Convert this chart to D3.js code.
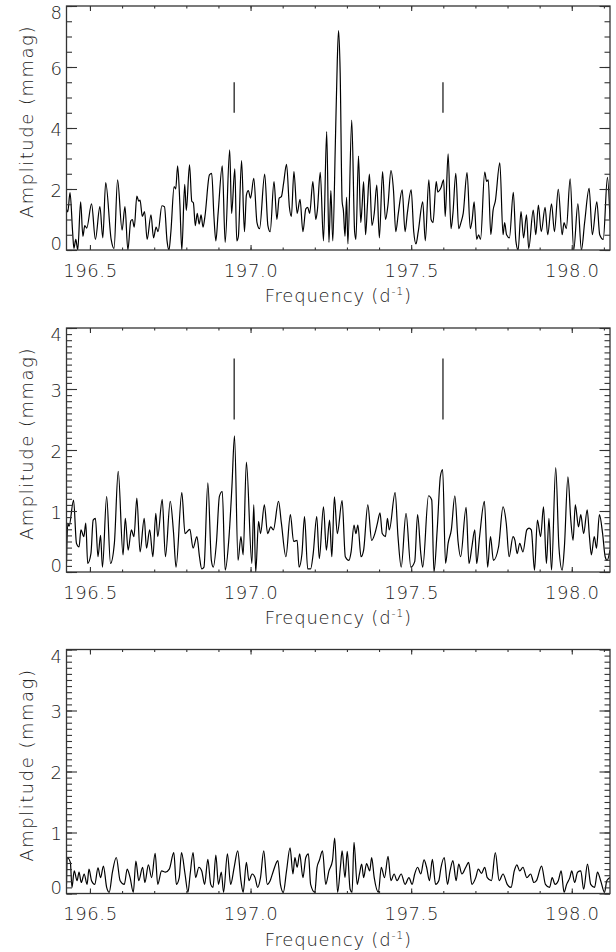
<!DOCTYPE html>
<html>
<head>
<meta charset="utf-8">
<script src="https://cdn.jsdelivr.net/npm/d3@7"></script>
<style>
body { margin: 0; background: #fff; }
svg text { font-family: "DejaVu Sans", sans-serif; font-weight: 200; fill: #222; }
</style>
</head>
<body>
<script>
// amplitude spectra: [frequency (1/d), amplitude (mmag)]
var spectrumTop = [
  [196.425,1.42],[196.431,1.25],[196.438,1.88],[196.446,0.6],[196.450,0.05],[196.456,0.35],[196.462,0.0],
  [196.471,1.58],[196.478,0.45],[196.484,0.8],[196.490,0.72],[196.505,1.51],[196.517,0.35],[196.531,1.42],
  [196.540,0.4],[196.549,2.21],[196.566,0.35],[196.575,0.05],[196.586,2.30],[196.600,0.65],[196.609,1.42],
  [196.618,0.0],[196.627,0.95],[196.632,1.0],[196.638,0.75],[196.646,1.77],[196.652,1.6],[196.656,1.64],
  [196.663,1.1],[196.670,1.26],[196.678,0.35],[196.690,1.15],[196.698,0.4],[196.706,0.75],[196.712,0.6],
  [196.724,1.45],[196.732,1.42],[196.740,0.3],[196.746,0.0],[196.752,0.6],[196.762,2.08],[196.767,2.0],
  [196.773,2.76],[196.780,1.5],[196.786,0.0],[196.795,2.15],[196.800,1.3],[196.810,2.79],[196.817,1.6],
  [196.822,1.55],[196.828,0.8],[196.834,1.2],[196.840,0.85],[196.846,1.15],[196.852,0.75],[196.858,1.1],
  [196.872,2.46],[196.879,2.51],[196.886,1.1],[196.892,0.3],[196.899,1.2],[196.912,2.76],[196.921,0.25],
  [196.935,3.28],[196.941,1.2],[196.951,2.66],[196.957,0.3],[196.962,0.45],[196.972,2.93],[196.981,0.6],
  [196.987,1.8],[196.993,1.95],[197.000,1.7],[197.010,2.35],[197.020,0.9],[197.028,0.7],[197.044,2.49],
  [197.054,0.8],[197.061,0.6],[197.073,2.24],[197.082,1.0],[197.089,1.7],[197.096,1.75],[197.103,2.2],
  [197.112,2.81],[197.121,1.4],[197.127,1.1],[197.135,2.57],[197.145,1.2],[197.154,1.66],[197.163,0.6],
  [197.172,1.35],[197.178,1.4],[197.184,1.2],[197.194,2.24],[197.203,1.0],[197.208,1.3],[197.217,2.55],
  [197.227,0.3],[197.237,3.88],[197.244,0.25],[197.250,1.95],[197.256,0.3],[197.264,3.5],[197.270,6.2],
  [197.274,7.19],[197.279,5.8],[197.285,1.6],[197.289,1.3],[197.294,0.45],[197.299,1.73],[197.303,0.2],
  [197.315,4.26],[197.324,0.6],[197.328,0.35],[197.336,3.08],[197.343,0.9],[197.347,1.4],[197.352,2.24],
  [197.358,0.5],[197.364,1.5],[197.370,2.49],[197.378,0.8],[197.385,1.2],[197.393,2.13],[197.401,0.4],
  [197.411,2.57],[197.420,1.0],[197.428,1.5],[197.437,2.6],[197.445,1.95],[197.452,0.6],[197.460,1.2],
  [197.472,1.97],[197.481,0.6],[197.488,1.2],[197.500,1.97],[197.508,0.6],[197.515,0.2],[197.522,0.6],
  [197.536,1.58],[197.544,0.3],[197.555,2.30],[197.562,1.0],[197.568,0.9],[197.578,2.24],[197.583,1.9],
  [197.588,1.95],[197.593,2.05],[197.601,2.3],[197.606,1.1],[197.615,3.15],[197.624,0.7],[197.630,1.2],
  [197.639,2.51],[197.648,0.7],[197.655,0.9],[197.662,1.2],[197.674,2.54],[197.684,0.7],[197.690,1.0],
  [197.696,1.58],[197.704,0.35],[197.710,0.5],[197.716,0.35],[197.729,2.55],[197.735,2.25],[197.740,2.3],
  [197.748,0.5],[197.755,1.3],[197.762,1.6],[197.776,2.86],[197.786,0.5],[197.791,0.9],[197.797,0.5],
  [197.806,0.4],[197.818,1.89],[197.826,0.3],[197.833,0.0],[197.842,1.26],[197.850,0.4],[197.859,1.15],
  [197.866,0.05],[197.880,1.31],[197.888,0.5],[197.896,1.47],[197.905,0.6],[197.917,1.40],[197.925,0.5],
  [197.937,1.51],[197.946,0.6],[197.958,1.99],[197.970,0.5],[197.976,0.9],[197.983,0.7],[197.995,2.33],
  [198.006,0.0],[198.019,1.51],[198.030,0.0],[198.040,0.9],[198.054,2.02],[198.064,0.5],[198.078,1.58],
  [198.087,0.5],[198.098,0.35],[198.111,2.38],[198.119,1.0]
];

var spectrumMid = [
  [196.427,0.15],[196.431,0.8],[196.435,0.75],[196.449,1.18],[196.458,0.47],[196.466,0.41],[196.472,0.69],
  [196.481,0.58],[196.487,0.8],[196.493,0.14],[196.503,0.3],[196.510,0.85],[196.517,0.88],[196.525,0.25],
  [196.533,0.6],[196.539,0.08],[196.552,1.24],[196.564,0.14],[196.576,0.47],[196.588,1.65],[196.603,0.28],
  [196.610,0.88],[196.619,0.36],[196.629,0.69],[196.637,0.58],[196.646,1.21],[196.656,0.33],[196.669,0.88],
  [196.676,0.39],[196.686,0.69],[196.696,0.25],[196.705,0.96],[196.711,0.58],[196.725,1.19],[196.735,0.25],
  [196.750,1.16],[196.760,0.66],[196.768,0.08],[196.786,1.30],[196.796,0.63],[196.811,0.7],[196.821,0.39],
  [196.833,0.58],[196.841,0.25],[196.848,0.05],[196.855,0.08],[196.867,1.46],[196.878,0.19],[196.884,0.08],
  [196.894,0.5],[196.903,1.24],[196.912,1.32],[196.921,0.03],[196.933,0.58],[196.942,1.4],[196.950,2.23],
  [196.961,0.19],[196.970,0.58],[196.977,0.28],[196.987,1.80],[197.004,0.14],[197.010,1.1],[197.016,0.0],
  [197.025,0.83],[197.031,0.63],[197.043,1.1],[197.053,0.63],[197.063,0.74],[197.071,0.69],[197.087,1.16],
  [197.096,0.8],[197.110,0.25],[197.124,0.94],[197.134,0.5],[197.145,0.52],[197.151,0.08],[197.160,0.3],
  [197.168,0.91],[197.178,0.05],[197.187,0.05],[197.195,0.3],[197.206,0.91],[197.214,0.22],[197.227,1.07],
  [197.236,0.36],[197.246,0.85],[197.253,0.25],[197.261,1.23],[197.270,0.63],[197.285,1.17],[197.295,0.25],
  [197.306,0.19],[197.313,0.33],[197.322,0.77],[197.328,0.63],[197.334,0.77],[197.344,0.25],[197.352,0.36],
  [197.365,1.10],[197.377,0.52],[197.387,0.63],[197.395,0.8],[197.403,0.97],[197.410,0.63],[197.420,0.58],
  [197.426,0.88],[197.432,0.69],[197.450,1.30],[197.459,0.58],[197.469,0.08],[197.484,0.96],[197.499,0.08],
  [197.511,0.17],[197.520,0.94],[197.530,0.3],[197.536,0.08],[197.554,1.25],[197.564,1.18],[197.571,0.0],
  [197.581,0.69],[197.591,1.57],[197.598,1.68],[197.607,0.14],[197.615,0.47],[197.625,0.69],[197.636,1.25],
  [197.646,0.5],[197.654,0.25],[197.671,1.06],[197.680,0.14],[197.689,0.41],[197.698,0.69],[197.704,0.14],
  [197.713,0.58],[197.728,1.16],[197.738,0.08],[197.747,0.58],[197.756,0.19],[197.772,0.41],[197.786,1.07],
  [197.796,0.8],[197.805,0.25],[197.817,0.58],[197.823,0.52],[197.830,0.3],[197.838,0.47],[197.848,0.33],
  [197.860,0.69],[197.867,0.72],[197.874,0.69],[197.884,0.03],[197.893,0.85],[197.903,0.58],[197.912,1.07],
  [197.921,0.14],[197.929,0.88],[197.937,0.03],[197.950,1.71],[197.960,0.41],[197.970,0.03],[197.977,0.41],
  [197.988,1.56],[197.997,0.85],[198.004,0.52],[198.011,1.1],[198.021,0.74],[198.028,0.94],[198.037,0.63],
  [198.048,1.02],[198.055,0.58],[198.061,0.28],[198.070,0.58],[198.077,0.39],[198.086,0.94],[198.096,0.63],
  [198.104,0.25],[198.110,0.19],[198.119,0.36]
];

var spectrumBottom = [
  [196.427,0.15],[196.429,0.59],[196.439,0.51],[196.444,0.1],[196.451,0.37],[196.460,0.21],[196.466,0.35],
  [196.473,0.18],[196.482,0.32],[196.491,0.15],[196.497,0.4],[196.505,0.21],[196.515,0.15],[196.525,0.42],
  [196.533,0.26],[196.542,0.45],[196.552,0.1],[196.560,0.02],[196.570,0.35],[196.582,0.59],[196.594,0.21],
  [196.607,0.15],[196.616,0.4],[196.625,0.26],[196.635,0.02],[196.643,0.53],[196.652,0.21],[196.664,0.43],
  [196.671,0.18],[196.682,0.47],[196.692,0.26],[196.703,0.66],[196.711,0.15],[196.723,0.37],[196.735,0.35],
  [196.747,0.4],[196.761,0.67],[196.769,0.15],[196.778,0.26],[196.785,0.67],[196.796,0.32],[196.805,0.02],
  [196.812,0.32],[196.821,0.67],[196.829,0.26],[196.839,0.43],[196.848,0.37],[196.857,0.15],[196.867,0.56],
  [196.876,0.15],[196.883,0.1],[196.892,0.63],[196.900,0.15],[196.909,0.35],[196.916,0.02],[196.928,0.65],
  [196.938,0.15],[196.949,0.43],[196.960,0.7],[196.970,0.21],[196.977,0.02],[196.987,0.51],[196.995,0.21],
  [197.005,0.32],[197.014,0.26],[197.022,0.1],[197.031,0.26],[197.041,0.7],[197.052,0.15],[197.061,0.21],
  [197.071,0.37],[197.085,0.54],[197.093,0.15],[197.102,0.02],[197.112,0.37],[197.123,0.75],[197.132,0.32],
  [197.138,0.59],[197.145,0.43],[197.153,0.65],[197.163,0.26],[197.172,0.59],[197.180,0.65],[197.187,0.15],
  [197.200,0.02],[197.207,0.43],[197.214,0.54],[197.224,0.7],[197.234,0.15],[197.244,0.37],[197.255,0.54],
  [197.262,0.91],[197.271,0.02],[197.280,0.45],[197.285,0.7],[197.294,0.26],[197.301,0.69],[197.310,0.07],
  [197.316,0.02],[197.322,0.84],[197.332,0.15],[197.339,0.32],[197.346,0.48],[197.352,0.26],[197.361,0.49],
  [197.371,0.37],[197.377,0.59],[197.385,0.26],[197.398,0.02],[197.407,0.43],[197.417,0.26],[197.428,0.61],
  [197.437,0.21],[197.447,0.32],[197.456,0.21],[197.469,0.32],[197.481,0.15],[197.493,0.26],[197.503,0.15],
  [197.511,0.32],[197.520,0.43],[197.530,0.32],[197.540,0.55],[197.548,0.43],[197.557,0.21],[197.566,0.56],
  [197.576,0.15],[197.586,0.21],[197.593,0.43],[197.603,0.59],[197.613,0.15],[197.621,0.37],[197.630,0.54],
  [197.640,0.21],[197.648,0.48],[197.658,0.32],[197.670,0.43],[197.679,0.51],[197.689,0.15],[197.701,0.26],
  [197.709,0.4],[197.719,0.33],[197.729,0.43],[197.737,0.26],[197.750,0.21],[197.762,0.67],[197.774,0.21],
  [197.786,0.32],[197.799,0.15],[197.811,0.1],[197.821,0.37],[197.829,0.47],[197.838,0.37],[197.848,0.43],
  [197.860,0.26],[197.872,0.32],[197.882,0.18],[197.890,0.21],[197.906,0.45],[197.918,0.15],[197.931,0.1],
  [197.939,0.26],[197.948,0.15],[197.958,0.21],[197.967,0.37],[197.976,0.02],[197.984,0.15],[197.994,0.26],
  [198.000,0.37],[198.009,0.18],[198.018,0.35],[198.028,0.37],[198.037,0.07],[198.049,0.48],[198.059,0.15],
  [198.071,0.1],[198.080,0.35],[198.090,0.21],[198.102,0.02],[198.109,0.21],[198.119,0.26]
];

var freqRange = [196.427, 198.119];
var xMajorTicks = [196.5, 197.0, 197.5, 198.0];
var yMax = [8, 4, 4];
var yMajorStep = [2, 1, 1];
var yMinorStep = [0.5, 0.1, 0.1];
// alias frequencies marked with short bars, and the amplitude span of each bar
var markFreqs = [196.949, 197.599];
var markSpans = [[4.5, 5.5], [2.5, 3.5], null];

var spectra = [spectrumTop, spectrumMid, spectrumBottom];

var width = 616, height = 952;
var left = 66.5, right = 610, plotH = 244;
var tops = [6, 328, 649.5];

var svg = d3.select("body").append("svg")
    .attr("width", width)
    .attr("height", height);

var x = d3.scaleLinear().domain(freqRange).range([left, right]);
var xMinor = d3.range(196.5, 198.15, 0.1);

spectra.forEach(function(data, i) {
  var top = tops[i], bottom = top + plotH;
  var y = d3.scaleLinear().domain([0, yMax[i]]).range([bottom, top]);
  var yMajor = d3.range(0, yMax[i] + 1e-9, yMajorStep[i]);
  var yMinor = d3.range(0, yMax[i] + 1e-9, yMinorStep[i]);

  var g = svg.append("g");

  g.append("clipPath").attr("id", "clip" + i)
    .append("rect")
    .attr("x", left).attr("y", top)
    .attr("width", right - left).attr("height", plotH);

  var line = d3.line()
      .x(function(d) { return x(d[0]); })
      .y(function(d) { return y(d[1]); })
      .curve(d3.curveMonotoneX);

  g.append("path")
    .datum(data)
    .attr("clip-path", "url(#clip" + i + ")")
    .attr("fill", "none")
    .attr("stroke", "#000")
    .attr("stroke-width", 1.2)
    .attr("stroke-linejoin", "round")
    .attr("d", line);

  if (markSpans[i]) {
    g.selectAll(".mark").data(markFreqs).enter().append("line")
      .attr("x1", function(d) { return x(d); })
      .attr("x2", function(d) { return x(d); })
      .attr("y1", y(markSpans[i][0]))
      .attr("y2", y(markSpans[i][1]))
      .attr("stroke", "#222")
      .attr("stroke-width", 1.3);
  }

  function tidy(sel) {
    sel.select(".domain").remove();
    sel.attr("color", "#333").attr("font-size", 18);
    sel.selectAll("line").attr("stroke-width", 1.1);
  }

  // bottom axis with labels, plus inward ticks on all four sides
  g.append("g").attr("transform", "translate(0," + bottom + ")")
    .call(d3.axisBottom(x).tickValues(xMajorTicks).tickSize(-5).tickPadding(14)
      .tickFormat(d3.format(".1f")))
    .call(tidy)
    .selectAll("text").attr("letter-spacing", 0.6);
  g.append("g").attr("transform", "translate(0," + bottom + ")")
    .call(d3.axisBottom(x).tickValues(xMinor).tickSize(-2.5).tickFormat(""))
    .call(tidy);
  g.append("g").attr("transform", "translate(0," + top + ")")
    .call(d3.axisTop(x).tickValues(xMajorTicks).tickSize(-5).tickFormat(""))
    .call(tidy);
  g.append("g").attr("transform", "translate(0," + top + ")")
    .call(d3.axisTop(x).tickValues(xMinor).tickSize(-2.5).tickFormat(""))
    .call(tidy);

  // end labels are nudged inside the frame, as in the original plot
  g.append("g").attr("transform", "translate(" + left + ",0)")
    .call(d3.axisLeft(y).tickValues(yMajor).tickSize(-10.5).tickPadding(4.5)
      .tickFormat(d3.format("d")))
    .call(tidy)
    .selectAll("text")
    .attr("y", function(d) { return d === 0 ? -6 : (d === yMax[i] ? 7 : 1.5); });
  g.append("g").attr("transform", "translate(" + left + ",0)")
    .call(d3.axisLeft(y).tickValues(yMinor).tickSize(-5.5).tickFormat(""))
    .call(tidy);
  g.append("g").attr("transform", "translate(" + right + ",0)")
    .call(d3.axisRight(y).tickValues(yMajor).tickSize(-10.5).tickFormat(""))
    .call(tidy);
  g.append("g").attr("transform", "translate(" + right + ",0)")
    .call(d3.axisRight(y).tickValues(yMinor).tickSize(-5.5).tickFormat(""))
    .call(tidy);

  g.append("rect")
    .attr("x", left).attr("y", top)
    .attr("width", right - left).attr("height", plotH)
    .attr("fill", "none")
    .attr("stroke", "#333")
    .attr("stroke-width", 1.3);

  // axis titles
  var xt = g.append("text")
    .attr("x", (left + right) / 2)
    .attr("y", bottom + 52)
    .attr("text-anchor", "middle")
    .attr("letter-spacing", 0.8)
    .attr("font-size", 18);
  xt.append("tspan").text("Frequency (d");
  xt.append("tspan").attr("dy", -7).attr("font-size", 11).text("-1");
  xt.append("tspan").attr("dy", 7).text(")");

  g.append("text")
    .attr("transform", "translate(33," + (bottom - 32) + ") rotate(-90)")
    .attr("text-anchor", "start")
    .attr("letter-spacing", 1.5)
    .attr("font-size", 18)
    .text("Amplitude (mmag)");
});
</script>
</body>
</html>
